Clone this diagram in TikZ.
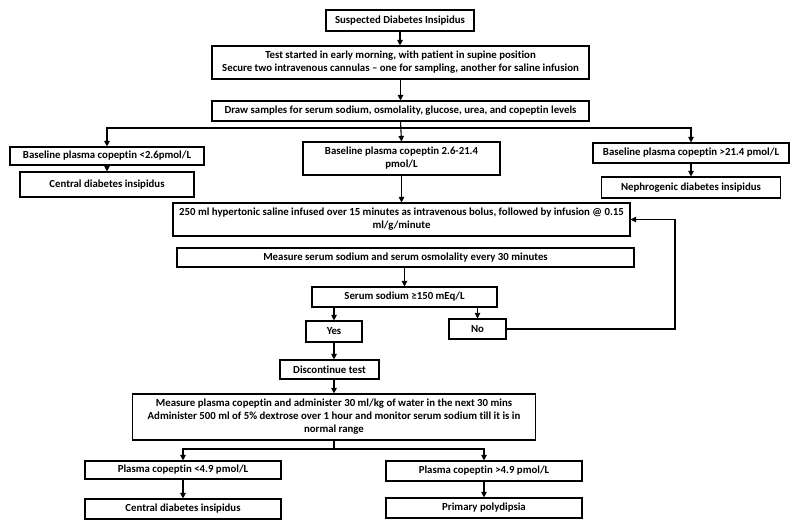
\documentclass[tikz,border=0pt]{standalone}
\usepackage{fontspec}
\setmainfont{Carlito}[Ligatures=NoCommon]
\usetikzlibrary{arrows.meta}
\begin{document}
\begin{tikzpicture}[x=1pt,y=-1pt,
  box/.style={draw, line width=1.1pt, inner sep=0pt, align=center,
    font=\fontsize{10.8}{13}\selectfont\bfseries},
  conn/.style={line width=1.1pt, -{Triangle[length=5.5pt,width=5.5pt]}},
  plain/.style={line width=1.1pt}]
\useasboundingbox[fill=white] (0,0) rectangle (800,530);

\node[box, minimum width=148pt, minimum height=21pt] (n1) at (400,20.5) {Suspected Diabetes Insipidus};
\node[box, minimum width=377pt, minimum height=33pt] (n2) at (400.5,62.5)
  {Test started in early morning, with patient in supine position\\Secure two intravenous cannulas – one for sampling, another for saline infusion};
\node[box, minimum width=377pt, minimum height=20pt] (n3) at (400.5,111)
  {Draw samples for serum sodium, osmolality, glucose, urea, and copeptin levels};

\node[box, minimum width=194pt, minimum height=18pt] (bl) at (107,156) {Baseline plasma copeptin <2.6pmol/L};
\node[box, minimum width=174pt, minimum height=25pt] (cdia) at (107,184.5) {Central diabetes insipidus};
\node[box, minimum width=197pt, minimum height=33pt] (bm) at (401.5,158.5)
  {Baseline plasma copeptin 2.6-21.4\\pmol/L};
\node[box, minimum width=196pt, minimum height=20pt] (br) at (691,153) {Baseline plasma copeptin >21.4 pmol/L};
\node[box, minimum width=179pt, minimum height=21pt] (ndi) at (691,187.5) {Nephrogenic diabetes insipidus};

\node[box, minimum width=457pt, minimum height=33pt] (hs) at (401.5,219.5)
  {250 ml hypertonic saline infused over 15 minutes as intravenous bolus, followed by infusion @ 0.15\\ml/g/minute};
\node[box, minimum width=457pt, minimum height=19pt] (ms) at (405.5,257.5)
  {Measure serum sodium and serum osmolality every 30 minutes};
\node[box, minimum width=185pt, minimum height=20pt] (ss) at (404.5,297) {Serum sodium ≥150 mEq/L};
\node[box, minimum width=56pt, minimum height=21pt] (yes) at (334,331.5) {Yes};
\node[box, minimum width=57pt, minimum height=20pt] (no) at (477.5,329) {No};
\node[box, minimum width=99pt, minimum height=19pt] (dc) at (329.5,369.5) {Discontinue test};
\node[box, minimum width=403pt, minimum height=46pt] (big) at (334,417)
  {Measure plasma copeptin and administer 30 ml/kg of water in the next 30 mins\\Administer 500 ml of 5\% dextrose over 1 hour and monitor serum sodium till it is in\\normal range};

\node[box, minimum width=196pt, minimum height=18pt] (pl) at (183,470) {Plasma copeptin <4.9 pmol/L};
\node[box, minimum width=196pt, minimum height=20pt] (cdib) at (183,509) {Central diabetes insipidus};
\node[box, minimum width=196pt, minimum height=20pt] (pr) at (484,471) {Plasma copeptin >4.9 pmol/L};
\node[box, minimum width=196pt, minimum height=20pt] (pp) at (484,508) {Primary polydipsia};

\coordinate (j1) at (401.5,128);
\coordinate (j2) at (334,449);
\coordinate (lp) at (675,329);

\draw[conn] (n1.south) -- (n1.south |- n2.north);
\draw[conn] (n2.south) -- (n3.north);
\draw[conn] (n3.south) -- (bm.north);
\draw[conn] (j1) -| (bl.north);
\draw[conn] (j1) -| (br.north);
\draw[conn] (bl.south) -- (cdia.north);
\draw[conn] (br.south) -- (ndi.north);
\draw[conn] (bm.south) -- (hs.north);
\draw[conn] (ss.north |- ms.south) -- (ss.north);
\draw[conn] (yes.north |- ss.south) -- (yes.north);
\draw[conn] (no.north |- ss.south) -- (no.north);
\draw[conn] (no.east) -- (lp) |- (hs.east);
\draw[conn] (yes.south) -- (yes.south |- dc.north);
\draw[conn] (big.north |- dc.south) -- (big.north);
\draw[plain] (big.south) -- (j2);
\draw[conn] (j2) -| (pl.north);
\draw[conn] (j2) -| (pr.north);
\draw[conn] (pl.south) -- (cdib.north);
\draw[conn] (pr.south) -- (pp.north);
\end{tikzpicture}
\end{document}
